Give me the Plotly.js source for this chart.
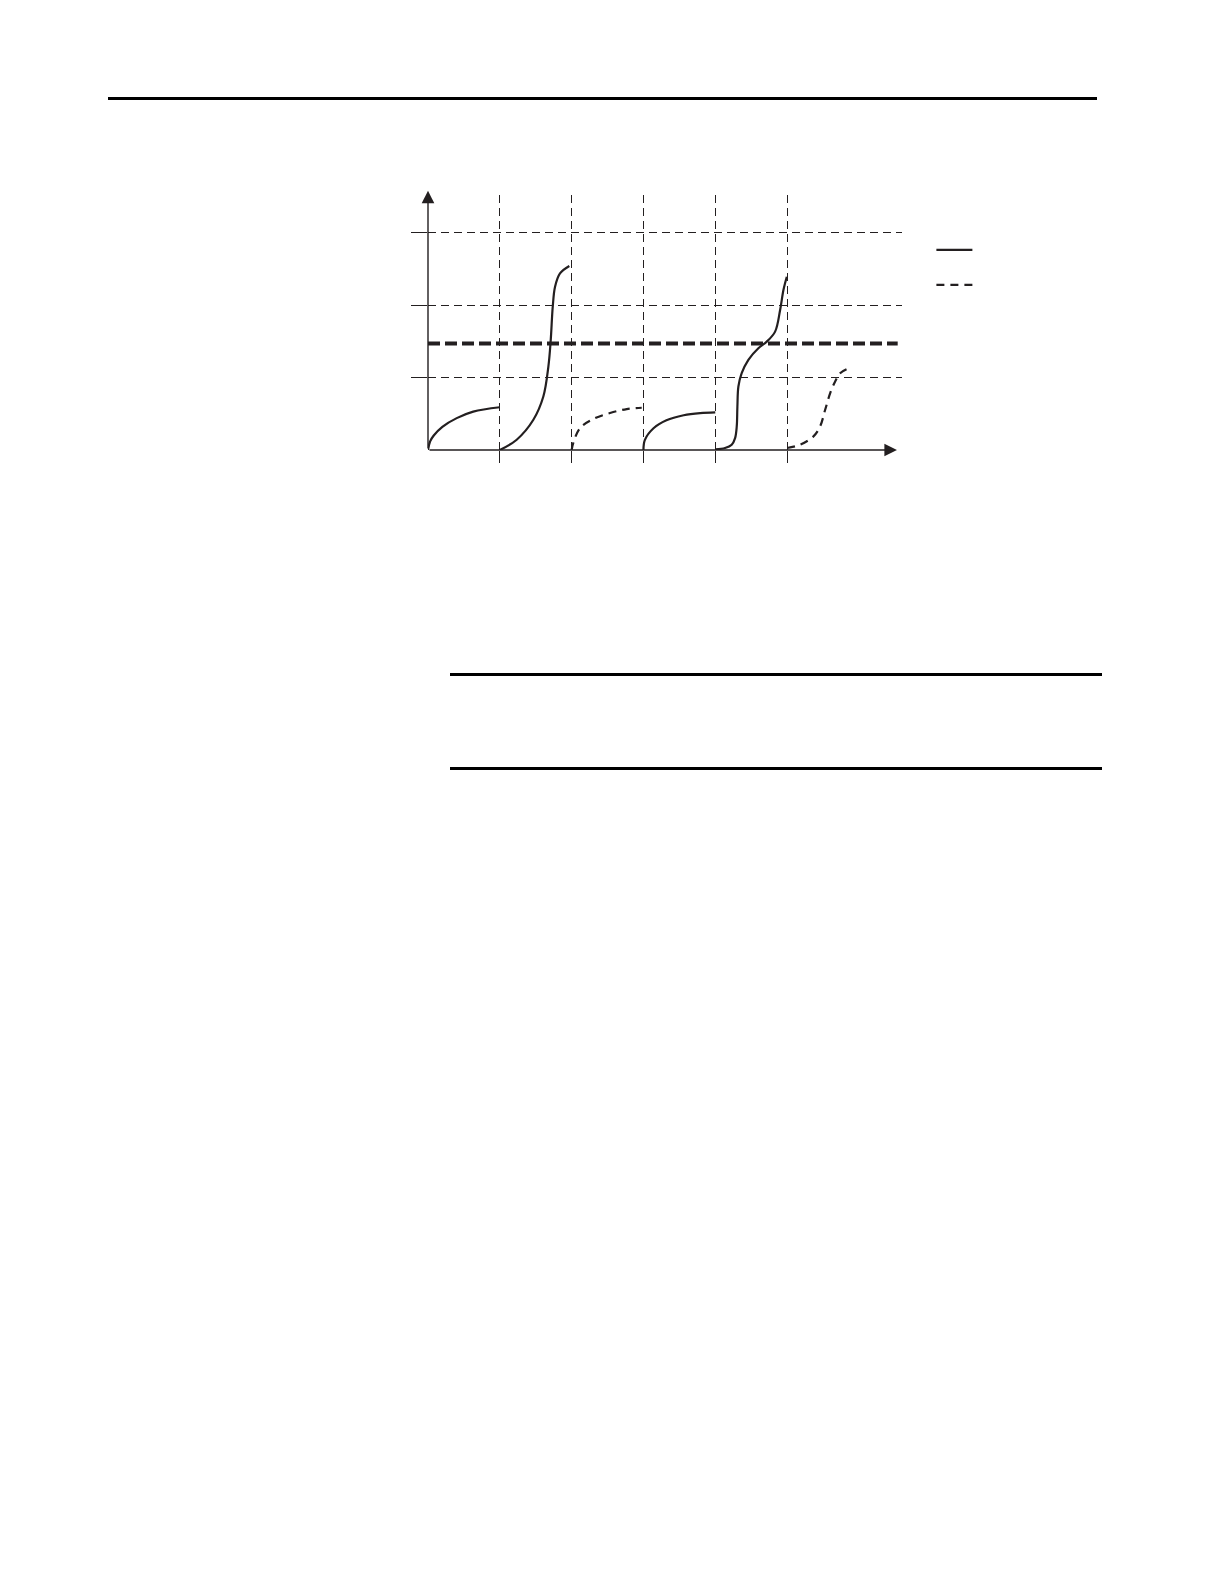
<!DOCTYPE html>
<html>
<head>
<meta charset="utf-8">
<script src="https://cdn.plot.ly/plotly-3.0.1.min.js"></script>
<style>
   body { margin: 0; background: #ffffff; }
   #page { position: relative; width: 1224px; height: 1584px; overflow: hidden; }
   #plot { position: absolute; left: 0; top: 0; width: 1224px; height: 1584px; }
   .rule { position: absolute; background: #000000; height: 3px; }
</style>
</head>
<body>
<div id="page">
   <div id="plot"></div>
   <div class="rule" style="left:108px; top:97px; width:989px;"></div>
   <div class="rule" style="left:450px; top:673px; width:652px;"></div>
   <div class="rule" style="left:450px; top:767px; width:652px;"></div>
</div>
<script>
// grid positions (one unit per cell)
var grid_x = [1, 2, 3, 4, 5];
var grid_y = [1, 2, 3];

// level of the thick dashed line
var level_x = [0, 6.54];
var level_y = [1.47, 1.47];

// solid segments
var seg1_x = [0, 0.03, 0.08, 0.2, 0.4, 0.63, 1.0];
var seg1_y = [0, 0.12, 0.2, 0.32, 0.44, 0.53, 0.59];

var seg2_x = [1.0, 1.235, 1.467, 1.606, 1.676, 1.709, 1.737, 1.769, 1.838, 1.968];
var seg2_y = [0, 0.142, 0.417, 0.738, 1.152, 1.519, 1.978, 2.254, 2.438, 2.54];

var seg4_x = [3.0, 3.02, 3.14, 3.32, 3.56, 3.79, 4.0];
var seg4_y = [0, 0.14, 0.3, 0.41, 0.48, 0.51, 0.52];

var seg5_x = [4.0, 4.136, 4.229, 4.276, 4.299, 4.308, 4.322, 4.368, 4.461, 4.6, 4.717, 4.833, 4.903, 4.949, 4.996];
var seg5_y = [0.01, 0.027, 0.073, 0.164, 0.325, 0.598, 0.877, 1.06, 1.244, 1.404, 1.496, 1.634, 1.933, 2.208, 2.392];

// dashed segments
var seg3_x = [2.0, 2.024, 2.117, 2.3, 2.535, 2.767, 2.976];
var seg3_y = [0, 0.1, 0.303, 0.427, 0.51, 0.565, 0.583];

var seg6_x = [5.0, 5.181, 5.367, 5.46, 5.53, 5.6, 5.669, 5.738, 5.831];
var seg6_y = [0.027, 0.073, 0.188, 0.326, 0.555, 0.785, 0.946, 1.06, 1.116];

var ink = '#231f20';

function curve(xs, ys, dash, group, legend) {
   return {
      x: xs,
      y: ys,
      mode: 'lines',
      name: '',
      legendgroup: group,
      showlegend: legend,
      hoverinfo: 'skip',
      line: {width: 2.2, color: ink, dash: dash, shape: 'spline', smoothing: 1}
   };
}

var level_trace = {
   x: level_x,
   y: level_y,
   mode: 'lines',
   showlegend: false,
   hoverinfo: 'skip',
   line: {width: 4, color: ink, dash: '12px,5px'}
};

var traces = [
   level_trace,
   curve(seg1_x, seg1_y, 'solid', 'solid', true),
   curve(seg2_x, seg2_y, 'solid', 'solid', false),
   curve(seg4_x, seg4_y, 'solid', 'solid', false),
   curve(seg5_x, seg5_y, 'solid', 'solid', false),
   curve(seg3_x, seg3_y, '8px,6px', 'dashed', true),
   curve(seg6_x, seg6_y, '8px,6px', 'dashed', false)
];

var xaxis_layout = {
   range: [0, 6.6],
   fixedrange: true,
   tickvals: grid_x,
   showticklabels: false,
   ticks: 'outside',
   ticklen: 12,
   tickwidth: 1,
   tickcolor: ink,
   showgrid: true,
   gridcolor: ink,
   gridwidth: 1,
   griddash: '8px,5px',
   zeroline: false,
   showline: false
};

var yaxis_layout = {
   range: [0, 3.52],
   fixedrange: true,
   tickvals: grid_y,
   showticklabels: false,
   ticks: 'outside',
   ticklen: 16,
   tickwidth: 1,
   tickcolor: ink,
   showgrid: true,
   gridcolor: ink,
   gridwidth: 1,
   griddash: '8px,5px',
   zeroline: false,
   showline: false
};

// axis lines with arrow heads
var axis_arrows = [
   {x: 0, y: 3.58, ax: 0, ay: 0, xref: 'x', yref: 'y', axref: 'x', ayref: 'y',
    text: '', showarrow: true, arrowhead: 2, arrowsize: 1.8, arrowwidth: 1.4, arrowcolor: ink},
   {x: 6.53, y: 0, ax: 0, ay: 0, xref: 'x', yref: 'y', axref: 'x', ayref: 'y',
    text: '', showarrow: true, arrowhead: 2, arrowsize: 1.8, arrowwidth: 1.4, arrowcolor: ink}
];

Plotly.newPlot('plot', traces, {
   width: 1224,
   height: 1584,
   margin: {l: 428, r: 322, t: 195, b: 1134, pad: 0},
   paper_bgcolor: '#ffffff',
   plot_bgcolor: '#ffffff',
   xaxis: xaxis_layout,
   yaxis: yaxis_layout,
   annotations: axis_arrows,
   hovermode: false,
   legend: {
      x: 1.062,
      xanchor: 'left',
      y: 0.842,
      yanchor: 'top',
      bgcolor: 'rgba(0,0,0,0)',
      itemwidth: 36,
      tracegroupgap: 16,
      font: {family: 'Liberation Serif', size: 12, color: ink}
   }
}, {displayModeBar: false, staticPlot: true});
</script>
</body>
</html>
